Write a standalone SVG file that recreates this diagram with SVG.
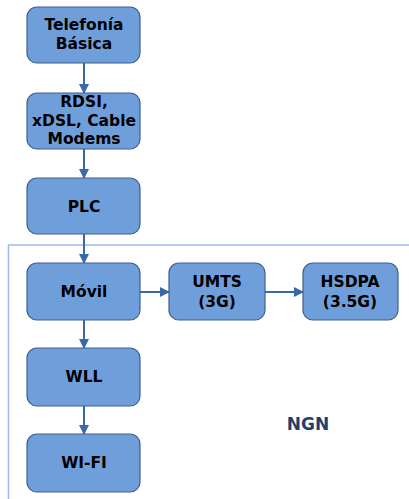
<svg xmlns="http://www.w3.org/2000/svg" width="409" height="499" viewBox="0 0 409 499">
<style>
.box{fill:#6f9fdb;stroke:#3e5f8c;stroke-width:1.2}
.t{font-family:"DejaVu Sans",Verdana,sans-serif;font-weight:bold;font-size:15.5px;fill:#000;text-anchor:middle}
.c{stroke:#3a68a8;stroke-width:2;fill:none;marker-end:url(#ah)}
</style>
<defs>
<marker id="ah" markerWidth="10" markerHeight="10" refX="9" refY="5" orient="auto" markerUnits="userSpaceOnUse">
<path d="M0,0 L10,5 L0,10 Z" fill="#3a68a8"/>
</marker>
</defs>
<rect width="409" height="499" fill="#fff"/>
<g id="ngn">
<path d="M409,245 H8.5 V499" fill="none" stroke="#9dbce6" stroke-width="1.5"/>
<text x="308" y="430" font-family="DejaVu Sans,Verdana,sans-serif" font-weight="bold" font-size="17" fill="#1f3f6f" text-anchor="middle">NGN</text>
</g>
<g id="connectors">
<path class="c" d="M84,63 V93"/>
<path class="c" d="M84,149 V178"/>
<path class="c" d="M84,234 V263"/>
<path class="c" d="M140,292 H169"/>
<path class="c" d="M265,292 H303"/>
<path class="c" d="M84,320 V348"/>
<path class="c" d="M84,406 V434"/>
</g>
<g id="telefonia"><rect class="box" x="27" y="7" width="113" height="56" rx="10"/><text class="t" x="84" y="30">Telefonía</text><text class="t" x="84" y="49">Básica</text></g>
<g id="rdsi"><rect class="box" x="27" y="93" width="113" height="56" rx="10"/><text class="t" x="84" y="107">RDSI,</text><text class="t" x="84" y="126">xDSL, Cable</text><text class="t" x="84" y="144">Modems</text></g>
<g id="plc"><rect class="box" x="27" y="178" width="113" height="56" rx="10"/><text class="t" x="84" y="212">PLC</text></g>
<g id="movil"><rect class="box" x="27" y="263" width="113" height="57" rx="10"/><text class="t" x="84" y="297">Móvil</text></g>
<g id="umts"><rect class="box" x="169" y="263" width="96" height="57" rx="10"/><text class="t" x="217" y="287">UMTS</text><text class="t" x="217" y="307">(3G)</text></g>
<g id="hsdpa"><rect class="box" x="303" y="263" width="95" height="57" rx="10"/><text class="t" x="350" y="287">HSDPA</text><text class="t" x="350" y="307">(3.5G)</text></g>
<g id="wll"><rect class="box" x="27" y="348" width="113" height="58" rx="10"/><text class="t" x="84" y="382">WLL</text></g>
<g id="wifi"><rect class="box" x="27" y="434" width="113" height="58" rx="10"/><text class="t" x="84" y="468">WI-FI</text></g>
</svg>
